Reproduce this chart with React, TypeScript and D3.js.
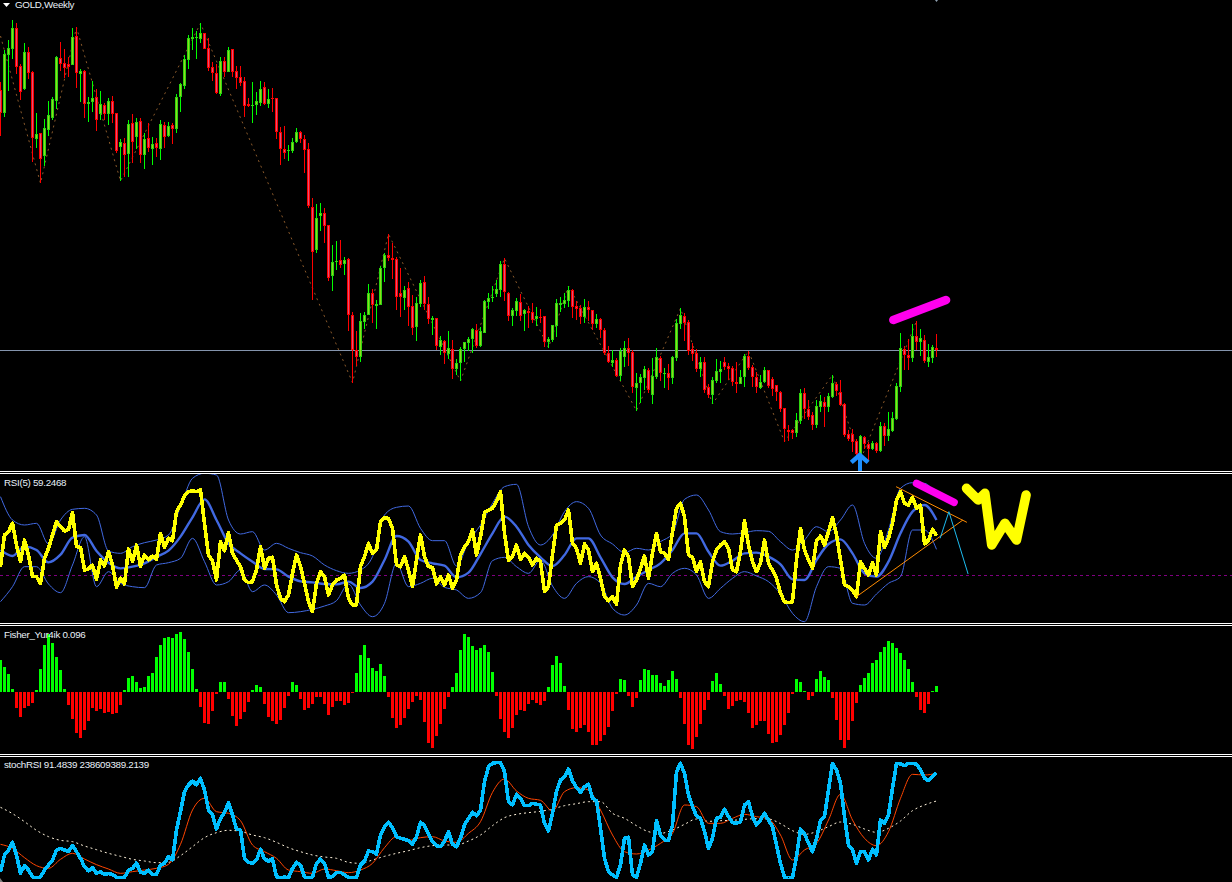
import React from "react";
import * as d3 from "d3";

// All level arrays are in units (no price axis is shown).
const highs = [1171,1266,1296,1356,1348,1224,1286,1274,1203,1076,1016,1058,1113,1124,1248,1290,1268,1244,1333,1334,1209,1206,1124,1173,1149,1143,1106,1121,1128,1076,998,1001,1056,1073,1063,1061,1016,1046,1004,1001,1056,1051,1051,1046,1134,1166,1251,1311,1331,1323,1346,1317,1301,1230,1224,1244,1244,1275,1269,1219,1218,1184,1123,1169,1140,1173,1169,1148,1152,1123,1034,1038,981,1001,1031,1024,1011,986,
821,804,806,792,741,680,692,696,644,641,481,423,476,479,564,549,516,619,658,714,686,644,611,558,569,530,526,576,588,524,469,463,408,396,423,396,339,376,391,406,431,444,436,516,536,558,576,633,641,539,491,522,534,489,498,506,495,488,469,406,441,518,524,536,558,549,512,501,519,513,486,474,461,431,378,366,341,
371,393,401,366,296,294,318,313,341,371,348,311,324,348,458,491,476,456,386,368,344,344,264,284,338,334,344,326,318,331,306,354,363,321,301,291,314,306,284,261,242,192,140,128,176,248,252,216,181,216,231,224,236,291,271,276,206,126,128,98,111,108,91,94,91,151,146,181,181,266,416,378,398,444,453,428,411,383,381,413];
const lows = [1009,1064,1144,1238,1194,1116,1146,1178,929,971,866,919,1008,1056,1089,1204,1183,1184,1221,1151,1109,1062,1051,1079,1024,1056,1056,1041,1046,956,873,886,886,926,968,928,909,960,921,944,936,972,1004,984,1018,1080,1149,1208,1266,1239,1288,1268,1203,1173,1133,1128,1184,1200,1184,1148,1158,1064,1094,1048,1071,1098,1100,1093,1081,998,921,938,933,958,986,986,898,792,
516,658,723,688,573,544,606,613,591,424,268,319,331,428,472,448,429,502,571,634,580,486,464,486,438,411,394,494,486,444,411,366,351,324,340,279,291,273,329,364,358,371,376,418,489,509,526,526,513,453,438,468,454,423,432,448,438,448,374,373,389,406,481,493,494,462,456,444,448,454,426,431,403,351,328,316,286,
273,316,318,236,184,206,246,236,204,278,273,253,246,263,334,428,393,351,334,301,286,236,221,204,266,266,306,276,258,236,263,256,306,256,238,248,266,251,228,214,181,91,94,98,106,144,159,156,126,133,181,136,181,223,228,198,106,92,61,41,36,68,36,66,56,60,78,94,121,156,241,306,306,331,366,348,326,314,326,344];
const opens = [1146,1076,1251,1269,1331,1218,1148,1259,1201,999,1016,948,1026,1063,1114,1241,1226,1223,1221,1308,1195,1203,1105,1111,1125,1074,1101,1074,1112,1076,975,986,955,1046,1004,1052,952,1001,970,986,970,1042,1008,1040,1030,1126,1159,1236,1300,1303,1300,1316,1271,1214,1196,1134,1232,1200,1268,1203,1184,1172,1103,1100,1100,1106,1154,1105,1121,1121,1019,968,964,963,989,1019,998,968,
794,666,769,776,740,589,631,635,624,638,472,365,344,451,472,536,499,502,613,650,641,638,538,523,553,499,436,505,569,503,456,461,376,392,355,370,310,328,370,388,398,427,379,418,511,523,534,546,624,536,469,483,511,475,484,479,459,466,467,390,396,439,501,504,514,546,497,491,465,494,485,444,458,425,356,328,337,
288,344,371,360,253,266,283,306,232,286,343,295,296,283,343,445,467,449,368,356,309,329,254,231,273,300,329,317,311,269,265,285,347,314,286,253,271,305,279,260,240,191,127,125,118,154,236,188,170,141,196,210,195,226,264,239,204,114,114,92,51,106,84,70,88,62,137,107,124,159,256,370,350,342,409,391,397,331,342,373];
const closes = [1076,1254,1271,1331,1216,1141,1261,1196,1001,1014,940,1031,1071,1119,1246,1223,1213,1216,1306,1198,1203,1105,1110,1122,1057,1104,1075,1113,1075,964,989,952,1044,991,1050,952,999,973,984,973,1044,1005,1038,1028,1125,1164,1238,1302,1305,1305,1317,1269,1213,1196,1138,1232,1200,1266,1201,1183,1168,1099,1098,1100,1112,1149,1105,1118,1120,1019,970,958,966,989,1019,998,967,798,
659,761,777,739,583,629,633,622,637,472,365,344,452,470,536,500,503,611,651,642,637,524,524,545,496,431,506,566,505,458,461,379,395,356,371,310,326,368,389,398,428,379,423,512,522,525,548,623,540,469,485,513,469,485,478,457,467,465,390,398,440,507,507,515,545,496,490,466,496,487,445,458,425,356,331,335,288,
364,371,358,256,266,284,309,246,289,344,296,296,283,344,446,471,448,364,354,308,329,246,232,275,302,309,316,310,269,264,284,347,312,286,256,271,305,259,250,241,189,128,120,118,156,236,188,166,142,198,213,196,228,266,242,202,111,100,91,54,108,85,69,88,62,137,109,128,161,258,371,350,343,408,391,401,334,344,374,365];

const zigzagBars = [0,10,19,30,50,88,97,115,126,137,142,159,170,178,187,196,208,215,229];
const zigzagLevels = [1308,866,1334,873,1346,268,714,273,641,373,558,184,491,204,363,91,291,36,453];

const rsiValues = [175,270,280,305,240,190,255,210,145,145,125,200,230,270,310,295,282,287,337,235,233,165,168,180,137,195,177,220,180,113,140,123,228,190,240,175,210,195,207,197,275,233,260,253,340,360,387,400,403,400,405,305,210,193,135,250,223,277,215,195,175,135,127,130,165,235,170,200,203,120,80,70,90,155,210,175,125,70,40,125,160,145,90,120,135,140,150,80,60,60,175,205,245,215,225,310,322,320,290,180,
175,205,165,115,195,270,205,175,173,123,145,120,150,110,135,210,235,250,287,210,265,337,345,350,370,400,275,193,205,240,197,215,203,180,200,190,100,115,210,300,305,315,345,245,230,185,243,225,160,185,140,85,72,85,62,180,225,205,115,135,170,207,140,215,275,220,215,197,280,350,365,325,210,203,160,190,130,115,190,225,240,250,230,165,160,220,313,240,190,160,
185,255,185,165,140,95,70,67,70,195,290,225,195,170,253,267,240,280,322,270,195,120,115,103,85,190,170,150,187,150,280,233,260,305,375,400,365,360,383,350,360,243,255,287,268];
// Moving average and bands are read every third bar.
const rsiAverage = [225,207,235,225,188,211,262,270,222,187,170,175,185,205,223,265,323,377,315,245,215,190,168,167,145,131,128,123,122,130,111,130,195,267,250,195,185,178,143,157,213,275,325,295,240,203,177,210,260,260,203,143,123,145,165,185,225,275,275,220,178,193,215,217,205,182,137,135,195,243,257,215,155,145,190,275,340,360,315];
const rsiUpper = [385,315,300,305,243,315,347,350,330,222,215,235,247,255,270,355,440,455,450,315,273,280,225,245,230,217,207,180,163,155,165,205,330,353,357,290,253,253,177,250,300,365,415,422,295,240,270,340,370,350,270,243,217,230,225,250,275,377,390,345,280,273,277,283,281,250,225,255,295,280,315,360,245,200,285,410,427,425,390];
const rsiLower = [70,115,175,175,123,97,180,265,115,160,125,115,112,180,187,200,260,190,120,130,165,100,120,90,37,40,47,57,73,123,60,25,65,185,115,125,140,113,105,80,97,193,203,175,155,195,117,80,125,145,125,50,30,60,125,115,155,170,150,80,110,140,160,147,130,93,35,10,115,175,170,65,60,93,125,145,285,285,227];

const fisherValues = [96,75,54,9,-48,-75,-48,-42,-33,6,69,141,175,147,105,66,9,-39,-81,-123,-138,-114,-87,-48,-57,-51,-63,-61,-66,-63,-39,6,42,48,30,12,15,48,57,105,141,162,165,162,174,180,159,120,69,9,-45,-93,-96,-57,-6,30,30,-21,-72,-102,-81,-60,-30,6,21,15,-36,-75,-87,-96,-84,-48,-12,30,21,-21,-54,-48,-36,-15,-15,-36,-69,-45,-27,-27,-39,-33,-3,57,111,141,102,72,63,84,48,-15,-78,-108,-99,-78,-51,-30,-12,-24,-90,-153,-168,-132,-96,-51,-15,15,57,126,174,165,
138,126,132,141,120,60,-12,-81,-120,-138,-108,-69,-54,-57,-36,-24,-33,-39,-27,15,81,108,87,18,-54,-111,-120,-108,-99,-120,-159,-159,-147,-129,-105,-57,-6,39,36,-12,-45,-18,36,69,66,51,51,27,18,36,63,39,-18,-96,-159,-171,-135,-96,-54,-24,33,57,24,-12,-51,-42,-27,-24,-30,-63,-108,-99,-87,-87,-126,-153,-150,-129,-99,-63,-6,39,30,3,-24,-12,39,63,45,36,-18,-84,-144,-168,-144,-87,-33,21,42,57,87,96,120,135,153,147,132,117,96,69,30,-15,-54,-63,-36,3,18];

const stochFast = [31,81,96,119,81,26,49,36,15,13,15,36,51,66,96,101,96,91,109,91,71,46,33,43,26,31,23,25,23,14,13,14,36,41,57,29,26,36,23,23,51,56,76,66,156,211,271,291,303,291,311,276,216,201,159,191,209,238,201,159,156,71,59,56,66,98,69,63,69,16,13,15,13,41,59,51,15,13,15,56,69,56,15,16,29,29,21,14,13,14,51,63,93,91,84,141,166,179,163,136,131,128,124,113,136,179,169,143,121,109,106,123,151,113,106,131,171,191,
209,199,216,301,346,356,358,358,331,241,231,263,251,229,229,236,233,231,176,153,206,271,306,316,339,303,284,269,286,293,251,244,161,71,31,21,14,51,131,134,21,14,56,111,81,91,184,141,126,124,171,331,356,326,261,226,198,191,151,101,131,191,194,218,196,178,176,181,231,241,196,171,186,206,186,166,111,56,14,13,13,76,159,146,116,91,131,184,196,276,356,336,296,196,111,96,56,91,91,66,98,81,186,176,201,281,356,354,349,356,356,353,336,311,304,316,328];
// The two slower stochRSI lines are read every third bar.
const stochSignal = [113,101,73,49,41,68,86,69,52,39,26,31,36,41,53,113,216,251,211,206,184,111,91,71,36,31,26,39,34,28,36,56,103,136,125,133,136,123,119,146,
181,269,309,273,251,245,213,271,283,276,216,141,91,84,96,116,146,231,226,176,176,191,203,196,189,141,66,96,116,186,263,186,131,109,151,251,323,321,326];
const stochSlow = [224,205,181,155,136,125,121,108,97,86,77,68,63,58,59,79,106,133,148,155,152,141,133,119,103,91,81,75,71,59,56,66,77,86,94,103,109,111,111,123,
141,169,193,203,208,212,219,229,235,241,241,206,191,169,151,146,156,173,189,182,184,185,188,190,189,175,154,143,151,166,180,173,159,149,161,183,214,231,243];

const rsiRuleLevel = 150;
const paneRules = ["main-bottom","rsi-top","rsi-bottom","fisher-top","fisher-bottom","stoch-top"];
const paneRuleRows = [471,473,623,625,754,756];

// Hand-drawn annotations as [bar, level]
const magentaMain = [[223.2,456],[236.4,516]];
const magentaRsi = [[229,425],[238.4,368]];
const orangeLower = [[214,85],[240.6,315]];
const orangeUpper = [[223.9,415],[241.6,308]];
const cyanForecast = [[234.9,260],[237.1,340],[241.9,153]];
const yellowW = [[241.5,410],[244.4,375],[246.1,395],[247.8,240],[251.1,305],[254,255],[256.4,390]];
const arrowHead = [[212.7,29],[214.8,51],[216.9,29]];
const arrowShaft = [[214.8,48],[214.8,3]];

const labels = { main: "GOLD,Weekly", rsi: "RSI(5) 59.2468", fisher: "Fisher_Yur4ik 0.096", stoch: "stochRSI 91.4839 238609389.2139" };

const W = 1232, H = 882;
const FONT = "'Liberation Sans', Arial, sans-serif";
const FONT_SIZE = 9.8;
const LABEL_SPACING = -0.3;
const GREEN = "#00ff00", RED = "#ff0000";

const xBar = d3.scaleLinear().domain([0, 234]).range([0.5, 936.5]);
const yMain = d3.scaleLinear().domain([0, 1416]).range([472, 0]);
const yRsi = d3.scaleLinear().domain([0, 465]).range([625, 470]);
const yFisher = d3.scaleLinear().domain([-201, 201]).range([759, 625]);
const yStoch = d3.scaleLinear().domain([0, 381]).range([882, 755]);

const everyBar = (vals: number[]) => vals.map((v, i) => [i, v] as [number, number]);
const everyThird = (vals: number[]) => vals.map((v, i) => [i * 3, v] as [number, number]);
const lineOf = (y: any, curve: any = d3.curveLinear) =>
  d3.line<number[]>().x((d) => xBar(d[0])).y((d) => y(d[1])).curve(curve);

export default function App() {
  const mainLine = lineOf(yMain);
  const rsiLine = lineOf(yRsi);
  const rsiSmooth = lineOf(yRsi, d3.curveMonotoneX);
  const stochLine = lineOf(yStoch);
  const stochSmooth = lineOf(yStoch, d3.curveMonotoneX);
  const crisp = "crispEdges" as const;
  return (
    <svg width={W} height={H} viewBox={`0 0 ${W} ${H}`} style={{ position: "fixed", left: 0, top: 0, background: "#000" }}>
      <defs>
        <clipPath id="c-main"><rect x={0} y={0} width={W} height={471} /></clipPath>
        <clipPath id="c-rsi"><rect x={0} y={474} width={W} height={149} /></clipPath>
        <clipPath id="c-fisher"><rect x={0} y={626} width={W} height={128} /></clipPath>
        <clipPath id="c-stoch"><rect x={0} y={757} width={W} height={125} /></clipPath>
      </defs>
      <rect width={W} height={H} fill="#000" />

      {/* price pane */}
      <g clipPath="url(#c-main)">
        <rect x={0} y={350} width={W} height={1} fill="#8494ad" />
        <path d={mainLine(zigzagBars.map((b, i) => [b, zigzagLevels[i]])) || ""} fill="none" stroke="#8b5a2b" strokeWidth={1} strokeDasharray="2 4" />
        {highs.map((h, i) => {
          const up = closes[i] >= opens[i];
          const cx = xBar(i);
          const top = yMain(Math.max(opens[i], closes[i]));
          const bot = yMain(Math.min(opens[i], closes[i]));
          const left = Math.round(cx - 1.5);
          return (
            <g key={i} shapeRendering={crisp}>
              <line x1={cx} x2={cx} y1={yMain(h)} y2={yMain(lows[i])} stroke={up ? GREEN : RED} strokeWidth={1} />
              <rect x={left} y={top} width={3} height={Math.max(bot - top, 1)} fill={up ? "#2fd40f" : RED} />
              {bot - top > 2 && <rect x={left + 1} y={top + 1} width={1} height={bot - top - 2} fill={up ? "#8fdc1e" : "#e0507a"} />}
            </g>
          );
        })}
        <path d={mainLine(arrowShaft) || ""} fill="none" stroke="#1e90ff" strokeWidth={4} shapeRendering={crisp} />
        <path d={mainLine(arrowHead) || ""} fill="none" stroke="#1e90ff" strokeWidth={4.5} />
      </g>
      <path d={mainLine(magentaMain) || ""} fill="none" stroke="#ff00ee" strokeWidth={8.5} strokeLinecap="round" />
      <path d="M3 3H10L6.5 7Z" fill="#fff" />
      <path d="M935 0H938L936.5 2Z" fill="#8fa0b0" />
      <text x={15} y={8} fontFamily={FONT} fontSize={FONT_SIZE} letterSpacing={LABEL_SPACING} fill="#e8f0f8">{labels.main}</text>

      {/* RSI pane */}
      <g clipPath="url(#c-rsi)">
        <line x1={0} x2={W} y1={yRsi(rsiRuleLevel) + 0.5} y2={yRsi(rsiRuleLevel) + 0.5} stroke="#800080" strokeWidth={1} strokeDasharray="3 3" shapeRendering={crisp} />
        <path d={rsiSmooth(everyThird(rsiUpper)) || ""} fill="none" stroke="#4169e1" strokeWidth={1} />
        <path d={rsiSmooth(everyThird(rsiLower)) || ""} fill="none" stroke="#4169e1" strokeWidth={1} />
        <path d={rsiSmooth(everyThird(rsiAverage)) || ""} fill="none" stroke="#4169e1" strokeWidth={2.4} />
        <path d={rsiLine(everyBar(rsiValues)) || ""} fill="none" stroke="#ffff00" strokeWidth={3.6} strokeLinejoin="round" shapeRendering={crisp} />
      </g>
      <path d={rsiLine(orangeLower) || ""} fill="none" stroke="#ff8c00" strokeWidth={1} />
      <path d={rsiLine(orangeUpper) || ""} fill="none" stroke="#ff8c00" strokeWidth={1} />
      <path d={rsiLine(cyanForecast) || ""} fill="none" stroke="#1ebcf0" strokeWidth={1} />
      <path d={rsiLine(magentaRsi) || ""} fill="none" stroke="#ff00ee" strokeWidth={7.5} strokeLinecap="round" />
      <path d={rsiLine(yellowW) || ""} fill="none" stroke="#ffff00" strokeWidth={9.5} strokeLinecap="round" strokeLinejoin="round" />
      <text x={4} y={486} fontFamily={FONT} fontSize={FONT_SIZE} letterSpacing={LABEL_SPACING} fill="#e8f0f8">{labels.rsi}</text>

      {/* Fisher pane */}
      <g clipPath="url(#c-fisher)" shapeRendering={crisp}>
        {fisherValues.map((v, i) => {
          const y0 = yFisher(0), y1 = yFisher(v);
          return (
            <rect key={i} x={Math.round(xBar(i) - 1.5)} y={Math.min(y0, y1)} width={3} height={Math.max(Math.abs(y1 - y0), 1)} fill={v >= 0 ? GREEN : RED} />
          );
        })}
      </g>
      <text x={4} y={638} fontFamily={FONT} fontSize={FONT_SIZE} letterSpacing={LABEL_SPACING} fill="#e8f0f8">{labels.fisher}</text>

      {/* stochRSI pane */}
      <g clipPath="url(#c-stoch)">
        <path d={stochSmooth(everyThird(stochSlow)) || ""} fill="none" stroke="#fff3dc" strokeWidth={1} strokeDasharray="2 3" />
        <path d={stochSmooth(everyThird(stochSignal)) || ""} fill="none" stroke="#ff4500" strokeWidth={1} />
        <path d={stochLine(everyBar(stochFast)) || ""} fill="none" stroke="#00bfff" strokeWidth={3.6} strokeLinejoin="round" shapeRendering={crisp} />
        <path d="M0 878L3 882H0Z" fill="#808080" />
      </g>
      <text x={4} y={768} fontFamily={FONT} fontSize={FONT_SIZE} letterSpacing={LABEL_SPACING} fill="#e8f0f8">{labels.stoch}</text>

      {/* pane separators */}
      {paneRules.map((name, i) => (
        <rect key={name} x={0} y={paneRuleRows[i]} width={W} height={1} fill="#fff" />
      ))}
    </svg>
  );
}
